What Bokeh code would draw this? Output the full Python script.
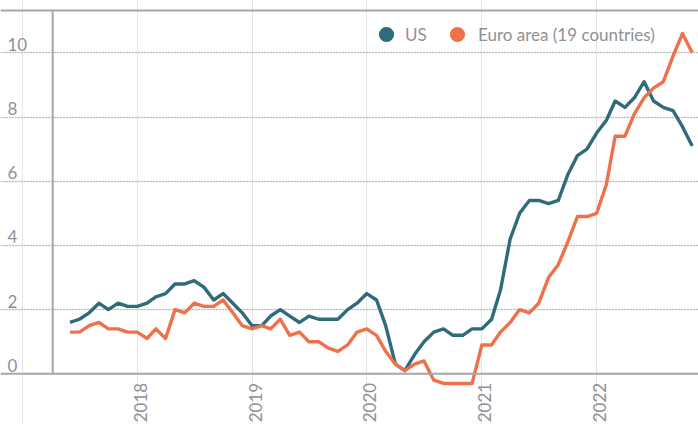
import numpy as np
import pandas as pd
from bokeh.plotting import figure
from bokeh.models import (ColumnDataSource, Span, Legend, LegendItem, Grid, FixedTicker,
                          Range1d)
from bokeh.core.properties import value
from bokeh.embed import file_html
from bokeh.resources import INLINE

# ---- data (monthly, Jun 2017 - Nov 2022) ----
months = pd.date_range("2017-06-01", periods=66, freq="MS")
us = [1.6, 1.7, 1.9, 2.2, 2.0, 2.2, 2.1,
      2.1, 2.2, 2.4, 2.5, 2.8, 2.8, 2.9, 2.7, 2.3, 2.5, 2.2, 1.9,
      1.5, 1.5, 1.8, 2.0, 1.8, 1.6, 1.8, 1.7, 1.7, 1.7, 2.0, 2.2,
      2.5, 2.3, 1.5, 0.3, 0.1, 0.6, 1.0, 1.3, 1.4, 1.2, 1.2, 1.4,
      1.4, 1.7, 2.6, 4.2, 5.0, 5.4, 5.4, 5.3, 5.4, 6.2, 6.8, 7.0,
      7.5, 7.9, 8.5, 8.3, 8.6, 9.1, 8.5, 8.3, 8.2, 7.7, 7.1]
euro = [1.3, 1.3, 1.5, 1.6, 1.4, 1.4, 1.3,
        1.3, 1.1, 1.4, 1.1, 2.0, 1.9, 2.2, 2.1, 2.1, 2.3, 1.9, 1.5,
        1.4, 1.5, 1.4, 1.7, 1.2, 1.3, 1.0, 1.0, 0.8, 0.7, 0.9, 1.3,
        1.4, 1.2, 0.7, 0.3, 0.1, 0.3, 0.4, -0.2, -0.3, -0.3, -0.3, -0.3,
        0.9, 0.9, 1.3, 1.6, 2.0, 1.9, 2.2, 3.0, 3.4, 4.1, 4.9, 4.9,
        5.0, 5.9, 7.4, 7.4, 8.1, 8.6, 8.9, 9.1, 9.9, 10.6, 10.0]
series_names = ["US", "Euro area (19 countries)"]
y_ticks = [0, 2, 4, 6, 8, 10]
y_labels = ["0", "2", "4", "6", "8", "10"]
years = [2018, 2019, 2020, 2021, 2022]
year_labels = ["2018", "2019", "2020", "2021", "2022"]

# ---- style ----
US_COLOR = "#2f6c79"
EU_COLOR = "#ef7149"
AXIS_COLOR = "#a6a6ad"
GRID_COLOR = "#9c9ca2"
TEXT_COLOR = "#909097"
FONT = "Lato"
FS = "17px"

x_start = pd.Timestamp("2016-10-23")
x_end = pd.Timestamp("2022-11-21")
axis_date = pd.Timestamp("2017-04-07")
y_start, y_end = -1.579, 11.63
y_top_line = 11.318

p = figure(width=698, height=424, x_axis_type="datetime",
           x_range=Range1d(x_start, x_end), y_range=Range1d(y_start, y_end),
           output_backend="svg", toolbar_location=None,
           x_axis_location=None, y_axis_location=None,
           min_border=0, outline_line_color=None)
p.background_fill_color = "white"
p.border_fill_color = "white"

grid = Grid(dimension=1, ticker=FixedTicker(ticks=y_ticks[1:]),
            grid_line_color=GRID_COLOR, grid_line_dash="1 2", grid_line_width=1.3)
p.add_layout(grid)

p.add_layout(Span(location=0, dimension="width", line_color=AXIS_COLOR, line_width=2))
p.add_layout(Span(location=y_top_line, dimension="width", line_color=AXIS_COLOR, line_width=2))
p.segment(x0=[axis_date], y0=[0], x1=[axis_date], y1=[y_top_line],
          line_color=AXIS_COLOR, line_width=2)

src = ColumnDataSource(dict(date=months, us=us, euro=euro))
p.line("date", "us", source=src, line_color=US_COLOR, line_width=3.4, line_join="round")
p.line("date", "euro", source=src, line_color=EU_COLOR, line_width=3.4, line_join="round")

# y tick labels
ysrc = ColumnDataSource(dict(x=[x_start] * len(y_ticks), y=y_ticks, t=y_labels))
p.text("x", "y", text="t", source=ysrc, text_font=value(FONT), text_font_size=FS,
       text_color=TEXT_COLOR, text_align="left", text_baseline="bottom",
       x_offset=7, y_offset=-2)

# year labels
xsrc = ColumnDataSource(dict(x=[pd.Timestamp(f"{y}-01-01") for y in years],
                             y=[0] * len(years), t=year_labels))
p.text("x", "y", text="t", source=xsrc, angle=np.pi / 2, text_font=value(FONT),
       text_font_size=FS, text_color=TEXT_COLOR, text_align="right",
       text_baseline="middle", x_offset=3, y_offset=9)

# legend: zero-size markers (invisible in the plot), the legend draws them as dots
r1 = p.scatter("date", "us", source=src, size=0, fill_color=US_COLOR, line_color=None)
r2 = p.scatter("date", "euro", source=src, size=0, fill_color=EU_COLOR, line_color=None)


def make_legend(label, renderer, loc, standoff):
    return Legend(items=[LegendItem(label=label, renderers=[renderer])],
                  orientation="horizontal", location=loc,
                  glyph_width=38, glyph_height=38, label_standoff=standoff,
                  padding=0, margin=0, border_line_color=None, background_fill_alpha=0,
                  label_text_font=FONT, label_text_font_size=FS,
                  label_text_color=TEXT_COLOR)


p.add_layout(make_legend(series_names[0], r1, (367, 371), 0))
p.add_layout(make_legend(series_names[1], r2, (438, 371), 2))

open("out.html", "w").write(file_html(p, INLINE))
